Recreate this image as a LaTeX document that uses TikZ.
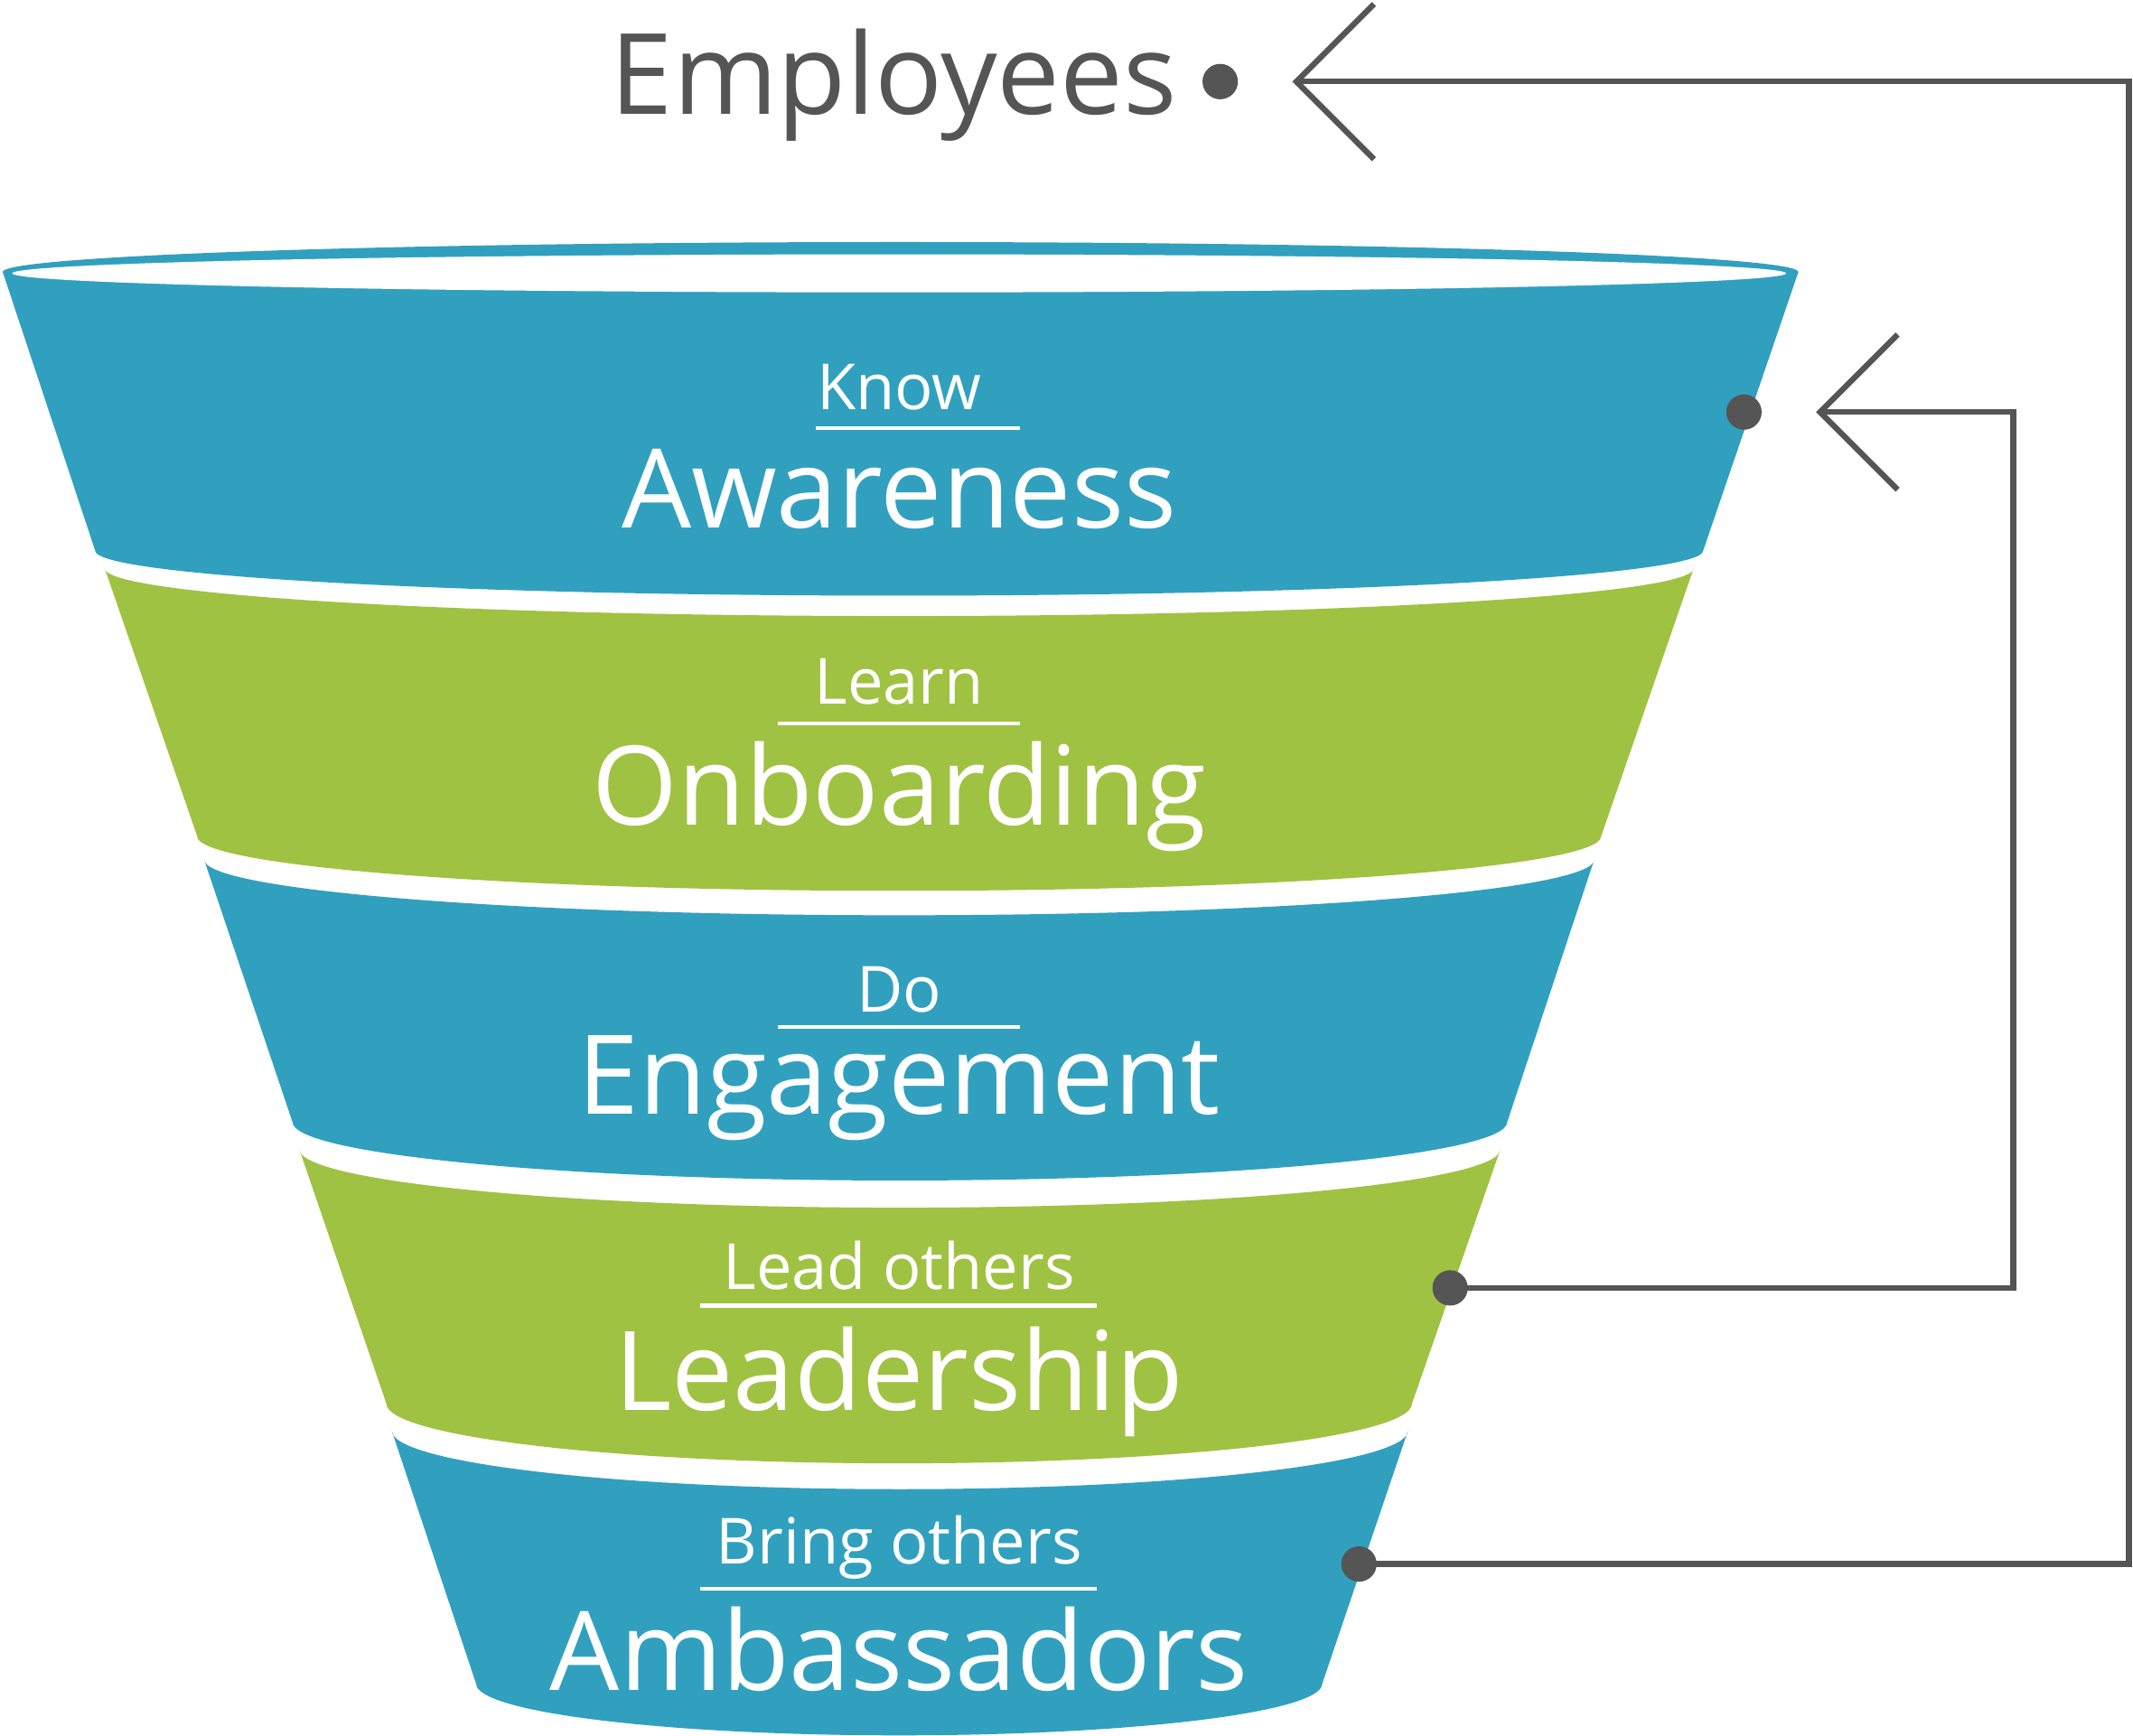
\documentclass[tikz,border=0pt]{standalone}
\usepackage{fontspec}
\setmainfont{Open Sans}
\usetikzlibrary{arrows.meta,positioning}
\definecolor{funblue}{HTML}{31A0BF}
\definecolor{fungreen}{HTML}{A0C242}
\definecolor{ink}{HTML}{555555}
\tikzset{
  stage/.style={text=white,font=\fontsize{13.3}{15}\selectfont,inner sep=0pt,anchor=base},
  title/.style={text=white,font=\fontsize{23}{26}\selectfont,inner sep=0pt,anchor=base},
  rule/.style={draw=white,line width=0.8pt},
  conn/.style={draw=ink,line width=1.2pt},
  dot/.style={circle,fill=ink,minimum size=0.26cm,inner sep=0pt},
  back/.style={-{Straight Barb[length=0.57cm,width=1.14cm,line width=1.2pt]}}
}
\begin{document}
\begin{tikzpicture}[x=0.01cm,y=0.01cm]
  \useasboundingbox (0,0) rectangle (1568,1276);
  % funnel bands
  \fill[funblue] (2,1076) arc[start angle=180,end angle=0,x radius=660,y radius=22]
    -- (1252,871) arc[start angle=0,end angle=-180,x radius=591,y radius=33] -- cycle;
  \fill[white] (661,1075) ellipse[x radius=652,y radius=14];
  \fill[fungreen] (77,858) arc[start angle=180,end angle=360,x radius=584,y radius=35]
    -- (1177,661) arc[start angle=0,end angle=-180,x radius=516,y radius=40] -- cycle;
  \fill[funblue] (150,644) arc[start angle=180,end angle=360,x radius=511,y radius=41]
    -- (1108,451) arc[start angle=0,end angle=-180,x radius=446.5,y radius=43] -- cycle;
  \fill[fungreen] (220,431) arc[start angle=180,end angle=360,x radius=441.5,y radius=43]
    -- (1038,244) arc[start angle=0,end angle=-180,x radius=377,y radius=44] -- cycle;
  \fill[funblue] (288,224) arc[start angle=180,end angle=360,x radius=373.5,y radius=43]
    -- (972,38) arc[start angle=0,end angle=-180,x radius=311,y radius=38] -- cycle;
  % labels
  \node[stage] (know) at (661,975) {Know};
  \node[title] (aware) at (661,888) {Awareness};
  \node[stage] (learn) at (661,758) {Learn};
  \node[title] (onb) at (661,669) {Onboarding};
  \node[stage] (do) at (661,532) {Do};
  \node[title] (eng) at (661,457) {Engagement};
  \node[stage] (lead) at (661,328) {Lead others};
  \node[title] (ldr) at (661,239) {Leadership};
  \node[stage] (bring) at (661,126) {Bring others};
  \node[title] (amb) at (661,33) {Ambassadors};
  \draw[rule] (600,961) -- (750,961);
  \draw[rule] (572,744) -- (750,744);
  \draw[rule] (572,521) -- (750,521);
  \draw[rule] (515,316) -- (806,316);
  \draw[rule] (515,108) -- (806,108);
  % employees and loops
  \node[text=ink,font=\fontsize{23.5}{26}\selectfont,inner sep=0pt,anchor=base east] (emp) at (866,1192) {Employees};
  \node[dot] (d0) at (897,1216) {};
  \node[dot] (d1) at (1282,973) {};
  \node[dot] (d4) at (1066,329) {};
  \node[dot] (d5) at (999,126) {};
  \coordinate (t0) at (950,1216);
  \coordinate (t1) at (1335,973);
  \coordinate (c4) at (1480,329);
  \coordinate (c5) at (1565,126);
  \draw[conn,back] (d5.center) -- (c5) |- (t0);
  \draw[conn,back] (d4.center) -- (c4) |- (t1);
\end{tikzpicture}
\end{document}
